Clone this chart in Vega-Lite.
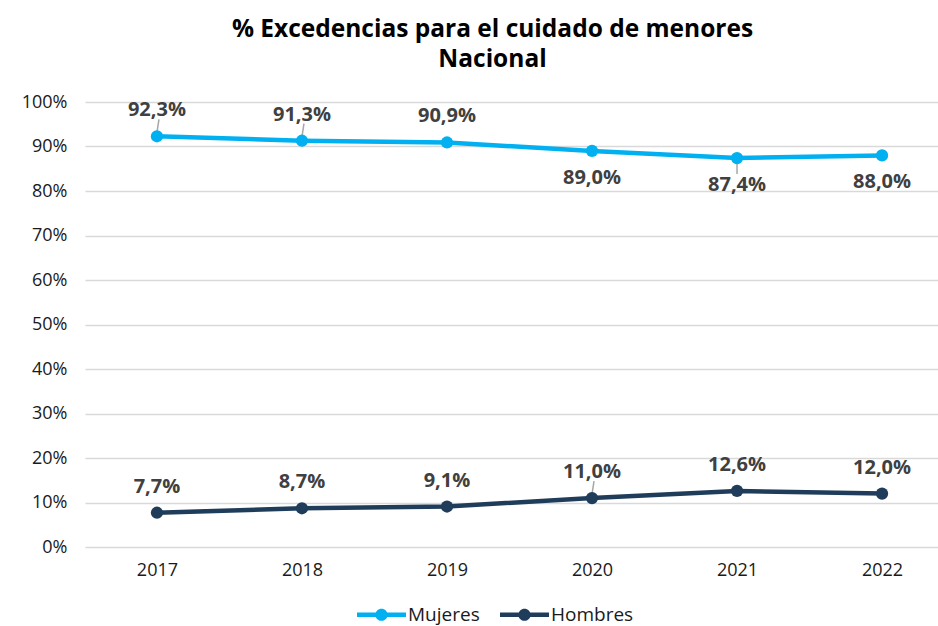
{
  "$schema": "https://vega.github.io/schema/vega-lite/v6.json",
  "width": 853,
  "height": 445,
  "autosize": "none",
  "padding": {"left": 85, "top": 102, "right": 0, "bottom": 79},
  "background": "white",
  "config": {
    "view": {"stroke": null},
    "locale": {"number": {"decimal": ",", "thousands": ".", "grouping": [3], "currency": ["", " €"]}},
    "font": "Open Sans"
  },
  "title": {
    "text": ["% Excedencias para el cuidado de menores", "Nacional"],
    "font": "Open Sans",
    "fontSize": 24.5,
    "fontWeight": "bold",
    "color": "#000000",
    "lineHeight": 30,
    "offset": 21,
    "dx": -19,
    "anchor": "middle"
  },
  "data": {
    "values": [
      {"year": "2017", "serie": "Mujeres", "v": 0.923},
      {"year": "2018", "serie": "Mujeres", "v": 0.913},
      {"year": "2019", "serie": "Mujeres", "v": 0.909},
      {"year": "2020", "serie": "Mujeres", "v": 0.890},
      {"year": "2021", "serie": "Mujeres", "v": 0.874},
      {"year": "2022", "serie": "Mujeres", "v": 0.880},
      {"year": "2017", "serie": "Hombres", "v": 0.077},
      {"year": "2018", "serie": "Hombres", "v": 0.087},
      {"year": "2019", "serie": "Hombres", "v": 0.091},
      {"year": "2020", "serie": "Hombres", "v": 0.110},
      {"year": "2021", "serie": "Hombres", "v": 0.126},
      {"year": "2022", "serie": "Hombres", "v": 0.120}
    ]
  },
  "encoding": {
    "x": {
      "field": "year", "type": "ordinal",
      "scale": {"type": "point", "padding": 0.441, "align": 0.5625},
      "axis": {"title": null, "labelAngle": 0, "ticks": false, "domain": false, "labelFontSize": 18, "labelColor": "#1a1a1a", "labelPadding": 14, "labelFont": "Open Sans"}
    },
    "y": {
      "field": "v", "type": "quantitative",
      "scale": {"domain": [0, 1], "nice": false},
      "axis": {"title": null, "format": ".0%", "values": [0, 0.1, 0.2, 0.3, 0.4, 0.5, 0.6, 0.7, 0.8, 0.9, 1], "ticks": false, "domain": false, "gridColor": "#d9d9d9", "gridWidth": 1.5, "labelFontSize": 18, "labelColor": "#1a1a1a", "labelPadding": 18, "labelFont": "Open Sans"}
    }
  },
  "layer": [
    {
      "transform": [{"filter": "(datum.serie == 'Mujeres' && (datum.year == '2017' || datum.year == '2018')) || (datum.serie == 'Hombres' && datum.year == '2020')"}],
      "mark": {"type": "rule", "color": "#a6a6a6", "strokeWidth": 1.5, "yOffset": -4, "y2Offset": -17, "x2Offset": 2},
      "encoding": {"y2": {"field": "v"}, "x2": {"field": "year"}}
    },
    {
      "transform": [{"filter": "datum.serie == 'Mujeres' && datum.year == '2021'"}],
      "mark": {"type": "rule", "color": "#a6a6a6", "strokeWidth": 1.5, "yOffset": 4, "y2Offset": 16},
      "encoding": {"y2": {"field": "v"}, "x2": {"field": "year"}}
    },
    {
      "mark": {"type": "line", "strokeWidth": 4.5, "point": {"filled": true, "size": 150}},
      "encoding": {
        "color": {
          "field": "serie", "type": "nominal",
          "scale": {"domain": ["Mujeres", "Hombres"], "range": ["#00B0F0", "#1F3D5A"]},
          "legend": {
            "title": null, "orient": "none", "direction": "horizontal",
            "legendX": 272, "legendY": 488,
            "labelFontSize": 19, "labelColor": "#1a1a1a", "labelFont": "Open Sans",
            "symbolType": "M-1,-0.09L1,-0.09L1,0.09L-1,0.09Z M0.25,0A0.25,0.25 0 1,1 -0.25,0A0.25,0.25 0 1,1 0.25,0Z",
            "symbolSize": 2400,
            "symbolStrokeWidth": 0,
            "columnPadding": 20,
            "labelOffset": 2,
            "encode": {"symbols": {"update": {"fill": {"scale": "color", "field": "value"}, "strokeWidth": {"value": 0}}}}
          }
        }
      }
    },
    {
      "transform": [{"filter": "!(datum.serie == 'Mujeres' && datum.year >= '2020')"}],
      "mark": {"type": "text", "dy": -26, "fontSize": 20, "fontWeight": "bold", "color": "#404040", "font": "Open Sans"},
      "encoding": {"text": {"field": "v", "type": "quantitative", "format": ".1%"}}
    },
    {
      "transform": [{"filter": "datum.serie == 'Mujeres' && datum.year >= '2020'"}],
      "mark": {"type": "text", "dy": 27, "fontSize": 20, "fontWeight": "bold", "color": "#404040", "font": "Open Sans"},
      "encoding": {"text": {"field": "v", "type": "quantitative", "format": ".1%"}}
    }
  ]
}
